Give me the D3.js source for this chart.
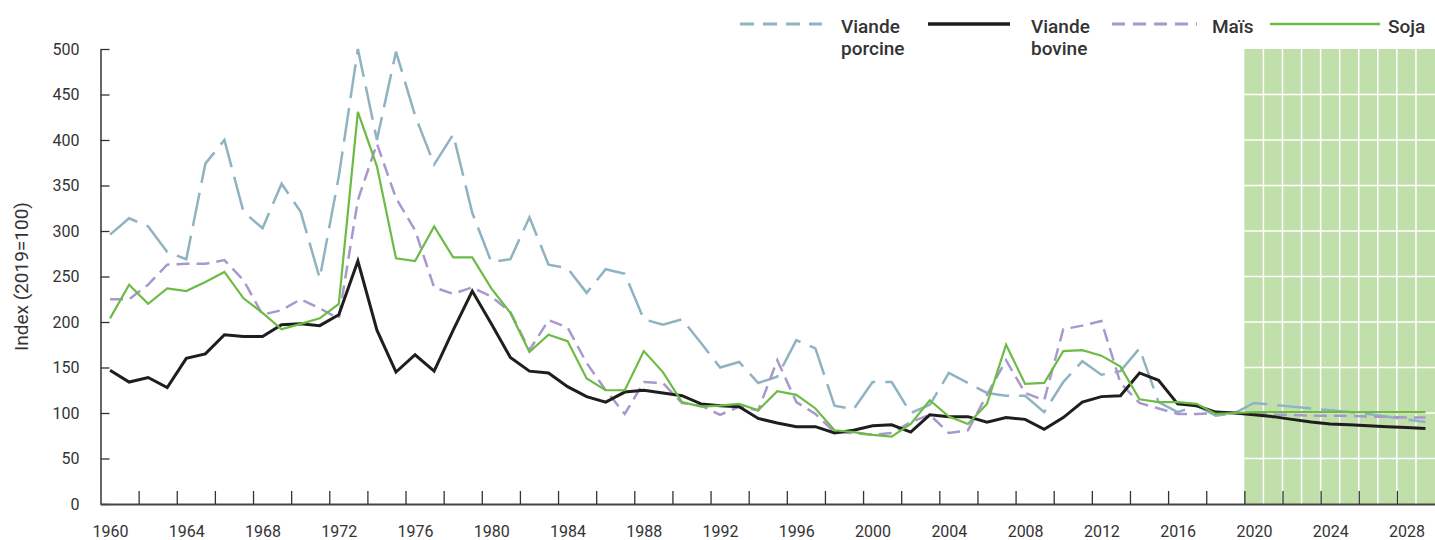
<!DOCTYPE html>
<html><head><meta charset="utf-8">
<script src="https://cdn.jsdelivr.net/npm/d3@7"></script>
<style>
body{margin:0;background:#fff}
svg{display:block}
text{font-family:Roboto, "DejaVu Sans", sans-serif; fill:#333}
</style>
</head><body>
<svg id="c" width="1435" height="540"></svg>
<script>
// ---- data ----
const years = d3.range(1960, 2030);
const porcine = [296,314,305,277,269,374,400,321,303,352,321,248,360,500,400,497,427,373,406,320,
  266,269,315,263,259,232,258,253,203,197,203,177,150,156,133,140,180,171,108,104,
  134,134,100,109,144,133,122,119,119,101,134,157,142,146,171,112,101,108,97,100,
  111,109,107,105,103,101,99,96,93,90];
const bovine = [147,134,139,128,160,165,186,184,184,197,198,196,208,267,191,145,164,146,191,234,
  198,161,146,144,129,118,112,123,125,122,119,110,108,107,94,89,85,85,78,81,
  86,87,79,98,96,96,90,95,93,82,95,112,118,119,144,136,110,108,101,100,
  98,96,93,90,88,87,86,85,84,83];
const mais = [225,225,241,263,264,264,268,246,208,213,225,215,204,334,396,336,301,238,231,238,
  228,211,169,202,194,155,125,99,134,133,111,108,98,107,103,158,112,99,79,78,
  76,78,90,98,78,81,120,158,122,114,192,196,201,133,111,105,99,99,100,100,
  99,98,98,97,97,97,96,96,95,95];
const soja = [204,241,220,237,234,244,255,226,210,192,198,204,220,431,371,270,267,305,271,271,
  237,210,167,186,179,138,125,125,168,145,112,107,108,110,103,124,120,105,81,79,
  76,74,88,114,96,88,110,175,132,133,168,169,163,151,115,112,112,110,99,100,
  101,101,101,101,101,101,101,101,101,101];
const yTicks = [0,50,100,150,200,250,300,350,400,450,500];
const xLabelYears = d3.range(1960, 2029, 4);
const xTickYears = d3.range(1962, 2030, 2);
const projectionStart = 2020;
const legendNames = [["Viande","porcine"],["Viande","bovine"],["Maïs"],["Soja"]];

// ---- layout ----
const pLeft = 100.5, pRight = 1435, pTop = 49, pBottom = 504;
const svg = d3.select("#c");
const x = d3.scaleLinear().domain([years[0]-0.5, years[years.length-1]+0.5]).range([pLeft, pRight]);
const y = d3.scaleLinear().domain([0, 500]).range([pBottom, pTop]);

// projection shading
const shade = svg.append("g");
shade.append("rect")
  .attr("x", x(projectionStart-0.5)).attr("y", pTop)
  .attr("width", pRight - x(projectionStart-0.5)).attr("height", pBottom-pTop)
  .attr("fill", "#c1dfab");
shade.selectAll("line.v").data(years.filter(v => v > projectionStart)).join("line")
  .attr("x1", d => x(d-0.5)).attr("x2", d => x(d-0.5))
  .attr("y1", pTop).attr("y2", pBottom)
  .attr("stroke", "#fff").attr("stroke-width", 1.5);
shade.selectAll("line.h").data(yTicks.filter(v => v > 0 && v < 500)).join("line")
  .attr("x1", x(projectionStart-0.5)).attr("x2", pRight)
  .attr("y1", d => y(d)).attr("y2", d => y(d))
  .attr("stroke", "#fff").attr("stroke-width", 1.5);

// y axis
const yAxis = svg.append("g").attr("transform", `translate(${pLeft},0)`)
  .call(d3.axisLeft(y).tickValues(yTicks).tickSizeInner(-9).tickSizeOuter(0).tickPadding(21));
yAxis.select(".domain").attr("stroke", "#333").attr("stroke-width", 1.5);
yAxis.selectAll(".tick line").attr("stroke", "#333").attr("stroke-width", 1.3);
yAxis.selectAll(".tick text").attr("font-size", 16).attr("fill", "#333")
  .style("font-family", "Roboto, sans-serif");

// x axis ticks (band boundaries)
const xt = svg.append("g").attr("transform", `translate(0,${pBottom})`)
  .call(d3.axisBottom(x).tickValues(xTickYears.map(v => v - 0.5)).tickSizeInner(-13).tickSizeOuter(0).tickFormat(""));
xt.select(".domain").attr("stroke", "#444").attr("stroke-width", 2);
xt.selectAll(".tick line").attr("stroke", "#333").attr("stroke-width", 1.3);
// x labels
const xl = svg.append("g").attr("transform", `translate(0,${pBottom})`)
  .call(d3.axisBottom(x).tickValues(xLabelYears).tickSize(0).tickPadding(22).tickFormat(d3.format("d")));
xl.select(".domain").remove();
xl.selectAll(".tick text").attr("font-size", 16).attr("fill", "#333")
  .style("font-family", "Roboto, sans-serif");

// y label
svg.append("text")
  .attr("transform", `translate(21,${(pTop+pBottom)/2}) rotate(-90)`)
  .attr("text-anchor", "middle").attr("dominant-baseline", "central")
  .attr("font-size", 19).text("Index (2019=100)");

// series
const styles = [
  {data: porcine, color: "#8fb3c1", width: 2.5, dash: "34,10", ldash: "14,9"},
  {data: bovine,  color: "#1f1d1e", width: 3,   dash: null,   ldash: null},
  {data: mais,    color: "#a898cd", width: 2.5, dash: "13,7", ldash: "13,8"},
  {data: soja,    color: "#6cbb45", width: 2.2, dash: null,   ldash: null}
];
const line = d3.line().x((d, i) => x(years[i])).y(d => y(d));
const drawOrder = [0, 2, 1, 3];
drawOrder.forEach(k => {
  const s = styles[k];
  svg.append("path").datum(s.data)
    .attr("d", line).attr("fill", "none")
    .attr("stroke", s.color).attr("stroke-width", s.width)
    .attr("stroke-dasharray", s.dash);
});

// legend
const legendPos = [
  {x1: 740, x2: 822, tx: 841},
  {x1: 928, x2: 1010, tx: 1031},
  {x1: 1112, x2: 1197, tx: 1212},
  {x1: 1270, x2: 1380, tx: 1388}
];
const lg = svg.append("g");
legendPos.forEach((p, k) => {
  const s = styles[k];
  lg.append("line").attr("x1", p.x1).attr("x2", p.x2).attr("y1", 24).attr("y2", 24)
    .attr("stroke", s.color).attr("stroke-width", s.width + 0.5)
    .attr("stroke-dasharray", s.ldash);
  const t = lg.append("text").attr("x", p.tx).attr("y", 33)
    .attr("font-size", 19).attr("font-weight", 500);
  legendNames[k].forEach((w, j) => {
    t.append("tspan").attr("x", p.tx).attr("dy", j === 0 ? 0 : 22).text(w);
  });
});
</script>
</body></html>
